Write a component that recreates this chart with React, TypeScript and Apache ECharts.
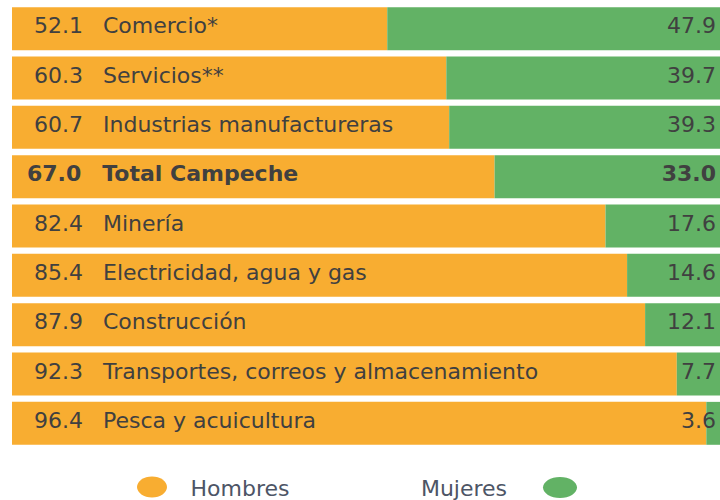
import React, { useEffect, useRef } from "react";
import * as echarts from "echarts";

const categories = [
  "Comercio*",
  "Servicios**",
  "Industrias manufactureras",
  "Total Campeche",
  "Minería",
  "Electricidad, agua y gas",
  "Construcción",
  "Transportes, correos y almacenamiento",
  "Pesca y acuicultura",
];
const hombres = [52.1, 60.3, 60.7, 67.0, 82.4, 85.4, 87.9, 92.3, 96.4];
const mujeres = [47.9, 39.7, 39.3, 33.0, 17.6, 14.6, 12.1, 7.7, 3.6];
const seriesNames = ["Hombres", "Mujeres"];
const totalCategory = "Total Campeche";

const ORANGE = "#F8AD31";
const GREEN = "#62B265";
const TEXT = "#404040";
const FONT = "DejaVu Sans";

export default function App() {
  const ref = useRef<HTMLDivElement>(null);
  useEffect(() => {
    if (!ref.current) return;
    const chart = echarts.init(ref.current, null, { renderer: "svg" });
    const isTotal = (i: number) => categories[i] === totalCategory;

    const hombresData = hombres.map((v, i) => ({
      value: v,
      label: { distance: isTotal(i) ? 15 : 22 },
    }));
    const mujeresData = mujeres.map((v, i) => ({
      value: v,
      label: { fontWeight: isTotal(i) ? "bold" : "normal" },
    }));

    const richBase = { fontFamily: FONT, fontSize: 22, color: TEXT };

    chart.setOption({
      animation: false,
      grid: { left: 12, right: 0, top: 4, bottom: 52 },
      xAxis: { type: "value", min: 0, max: 98.3, show: false },
      yAxis: {
        type: "category",
        data: categories,
        inverse: true,
        show: false,
      },
      series: [
        {
          name: seriesNames[0],
          type: "bar",
          stack: "total",
          barCategoryGap: "13%",
          itemStyle: { color: ORANGE },
          data: hombresData,
          label: {
            show: true,
            position: "insideLeft",
            offset: [0, -3],
            formatter: (p: any) => {
              const b = isTotal(p.dataIndex);
              const num = hombres[p.dataIndex].toFixed(1);
              const name = categories[p.dataIndex];
              return b ? `{nb|${num}}{cb|${name}}` : `{n|${num}}{c|${name}}`;
            },
            rich: {
              n: { ...richBase },
              nb: { ...richBase, fontWeight: "bold" },
              c: { ...richBase, padding: [0, 0, 0, 20] },
              cb: { ...richBase, fontWeight: "bold", padding: [0, 0, 0, 21] },
            },
          },
        },
        {
          name: seriesNames[1],
          type: "bar",
          stack: "total",
          barCategoryGap: "13%",
          itemStyle: { color: GREEN },
          data: mujeresData,
          label: {
            show: true,
            position: "insideRight",
            distance: 4,
            offset: [0, -3],
            fontFamily: FONT,
            fontSize: 22,
            color: TEXT,
            formatter: (p: any) => mujeres[p.dataIndex].toFixed(1),
          },
        },
      ],
      graphic: [
        {
          type: "ellipse",
          shape: { cx: 152, cy: 487, rx: 15, ry: 10.5 },
          style: { fill: ORANGE },
        },
        {
          type: "text",
          x: 240,
          y: 488,
          style: {
            text: seriesNames[0],
            fontFamily: FONT,
            fontSize: 22,
            fill: "#4d5566",
            align: "center",
            verticalAlign: "middle",
          },
        },
        {
          type: "text",
          x: 464,
          y: 488,
          style: {
            text: seriesNames[1],
            fontFamily: FONT,
            fontSize: 22,
            fill: "#4d5566",
            align: "center",
            verticalAlign: "middle",
          },
        },
        {
          type: "ellipse",
          shape: { cx: 560, cy: 487.5, rx: 17, ry: 10.5 },
          style: { fill: GREEN },
        },
      ],
    });
    return () => chart.dispose();
  }, []);
  return (
    <div
      ref={ref}
      style={{ position: "absolute", left: 0, top: 0, width: 720, height: 500 }}
    />
  );
}
